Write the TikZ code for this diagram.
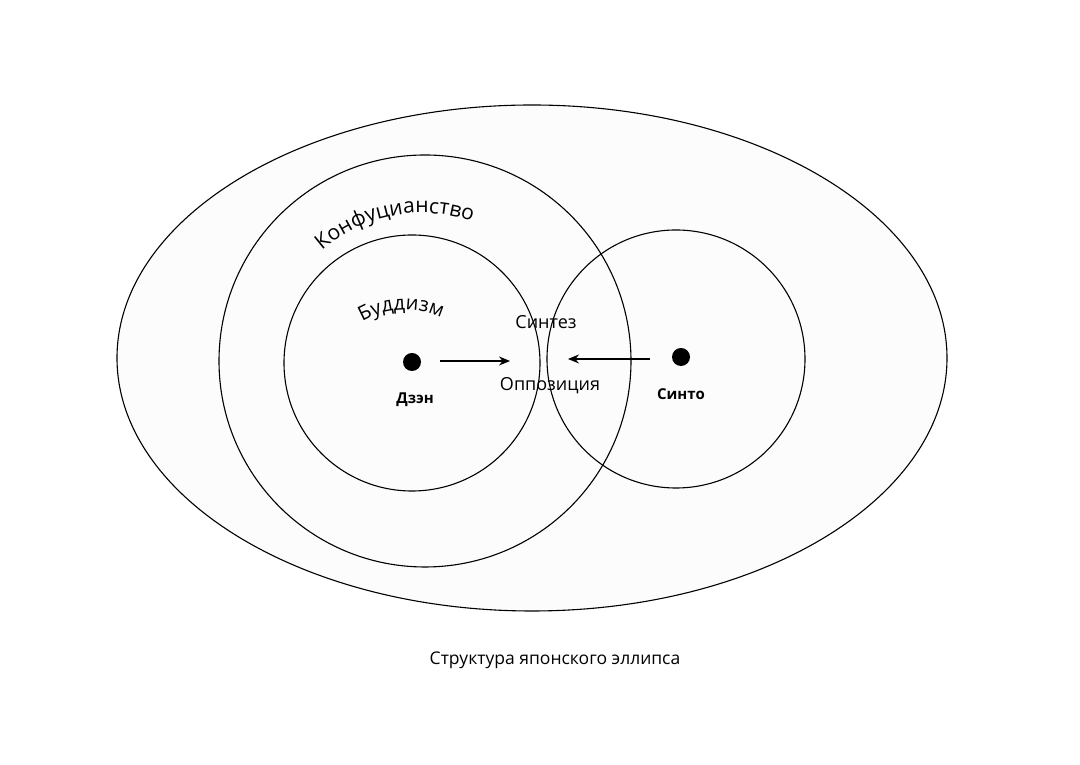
\documentclass[tikz,border=0pt]{standalone}
\usepackage{fontspec}
\setmainfont{Open Sans}
\usetikzlibrary{decorations.text,arrows.meta}
\begin{document}
\begin{tikzpicture}[x=1pt,y=1pt,
  ring/.style={draw=black,line width=1.1pt},
  dot/.style={circle,fill=black,inner sep=0pt,minimum size=18pt},
  lbl/.style={font=\fontsize{18}{21}\selectfont},
  blbl/.style={font=\fontsize{15}{18}\selectfont\bfseries},
  arr/.style={-{Stealth[length=11pt,width=9pt]},line width=1.1pt}]
\useasboundingbox (0,0) rectangle (1080,765);
\draw[ring,fill=black!1] (532,407) ellipse [x radius=415,y radius=253];
\draw[ring] (425,404) circle (206);
\draw[ring] (412,402) circle (128);
\draw[ring] (676,406) circle (129);
\node[dot] (dzen) at (412,403) {};
\node[dot] (shinto) at (681,408) {};
\coordinate (a1) at (510,404);
\coordinate (a2) at (568,406);
\coordinate (s1) at (440,404);
\coordinate (s2) at (650,406);
\draw[arr] (s1) -- (a1);
\draw[arr] (s2) -- (a2);
\node[lbl] (syn) at (546,443) {Синтез};
\node[lbl] (opp) at (550,379) {Оппозиция};
\node[blbl] (dzl) at (415,365) {Дзэн};
\node[blbl] (shl) at (681,371) {Синто};
\node[font=\fontsize{17.5}{20}\selectfont] (cap) at (555,105) {Структура японского эллипса};
\path[decorate,decoration={text along path,text align=center,
  text={|\fontsize{21}{24}\selectfont|Конфуцианство}}]
  (422,400) ++(140:152) arc[start angle=140,end angle=62,radius=152];
\path[decorate,decoration={text along path,text align=center,
  text={|\fontsize{20}{23}\selectfont|Буддизм}}]
  (405,370) ++(145:85) arc[start angle=145,end angle=40,radius=85];
\end{tikzpicture}
\end{document}
